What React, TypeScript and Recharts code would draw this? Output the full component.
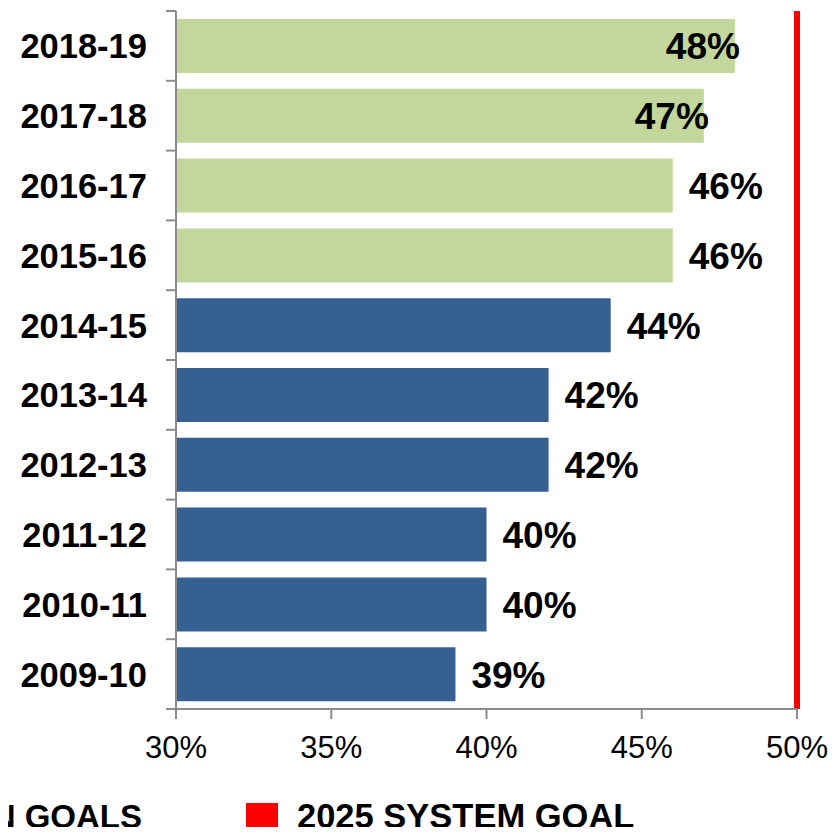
import React from "react";
import {
  BarChart,
  Bar,
  XAxis,
  YAxis,
  Cell,
  LabelList,
  ReferenceLine,
  Legend,
} from "recharts";

const years = [
  "2018-19",
  "2017-18",
  "2016-17",
  "2015-16",
  "2014-15",
  "2013-14",
  "2012-13",
  "2011-12",
  "2010-11",
  "2009-10",
];
const rates = [0.48, 0.47, 0.46, 0.46, 0.44, 0.42, 0.42, 0.4, 0.4, 0.39];
// goal years vs actual years
const kinds = ["goal", "goal", "goal", "goal", "actual", "actual", "actual", "actual", "actual", "actual"];
const xTicks = [0.3, 0.35, 0.4, 0.45, 0.5];
const systemGoal = 0.5;

const FONT = "Arial, 'Liberation Sans', sans-serif";
const GREEN = "#c3d69b";
const BLUE = "#376092";
const AXIS = "#8c8c8c";

const data = years.map((y, i) => ({ year: y, rate: rates[i], kind: kinds[i] }));

const pct = (v: number) => `${Math.round(v * 100)}%`;

const YTick = (props: any) => {
  const { x, y, payload, index } = props;
  const half = 34.9;
  return (
    <g>
      <line x1={166} x2={176} y1={y - half} y2={y - half} stroke={AXIS} strokeWidth={2} />
      {index === years.length - 1 && (
        <line x1={166} x2={176} y1={y + half} y2={y + half} stroke={AXIS} strokeWidth={2} />
      )}
      <text
        x={x - 21}
        y={y}
        dy="0.36em"
        textAnchor="end"
        fontFamily={FONT}
        fontWeight="bold"
        fontSize={34.5}
        fill="#000"
      >
        {payload.value}
      </text>
    </g>
  );
};

const renderValue = (props: any) => {
  const { x, y, width, height, value, index } = props;
  const inside = index < 2;
  return (
    <text
      x={inside ? x + width + 5 : x + width + 16}
      y={y + height / 2}
      dy="0.36em"
      textAnchor={inside ? "end" : "start"}
      fontFamily={FONT}
      fontWeight="bold"
      fontSize={37}
      fill="#000"
    >
      {pct(value)}
    </text>
  );
};

const renderLegend = () => (
  <div style={{ position: "relative", width: 838, height: 39, fontFamily: FONT, fontWeight: "bold", fontSize: 34.5 }}>
    <span style={{ position: "absolute", right: 838 - 142, top: 2, whiteSpace: "nowrap", lineHeight: "38px", fontSize: 33 }}>
      GRADUATION GOALS
    </span>
    <span style={{ position: "absolute", left: 246, top: 7, width: 32, height: 29, background: "#ff0000" }} />
    <span style={{ position: "absolute", left: 297, top: 1, whiteSpace: "nowrap", lineHeight: "38px" }}>
      2025 SYSTEM GOAL
    </span>
  </div>
);

export default function App() {
  return (
    <div style={{ margin: -8, width: 838, height: 835, overflow: "hidden", background: "#fff" }}>
      <BarChart
        width={838}
        height={835}
        data={data}
        layout="vertical"
        margin={{ top: 11, right: 41, bottom: 0, left: 0 }}
        barSize={54}
      >
        <XAxis
          type="number"
          domain={[0.3, 0.5]}
          ticks={xTicks}
          tickFormatter={pct}
          stroke={AXIS}
          strokeWidth={2}
          tickSize={10}
          tickMargin={17}
          height={87}
          tick={{ fill: "#000", fontSize: 31, fontFamily: FONT }}
          interval={0}
        />
        <YAxis
          type="category"
          dataKey="year"
          width={176}
          stroke={AXIS}
          strokeWidth={2}
          tickLine={false}
          tick={<YTick />}
          interval={0}
        />
        <Bar dataKey="rate" isAnimationActive={false}>
          {data.map((d, i) => (
            <Cell key={i} fill={d.kind === "goal" ? GREEN : BLUE} />
          ))}
          <LabelList dataKey="rate" content={renderValue} />
        </Bar>
        <ReferenceLine x={systemGoal} stroke="#ff0000" strokeWidth={6} />
        <Legend
          content={renderLegend}
          wrapperStyle={{ position: "absolute", left: 0, top: 796, width: 838, height: 39 }}
        />
      </BarChart>
    </div>
  );
}
